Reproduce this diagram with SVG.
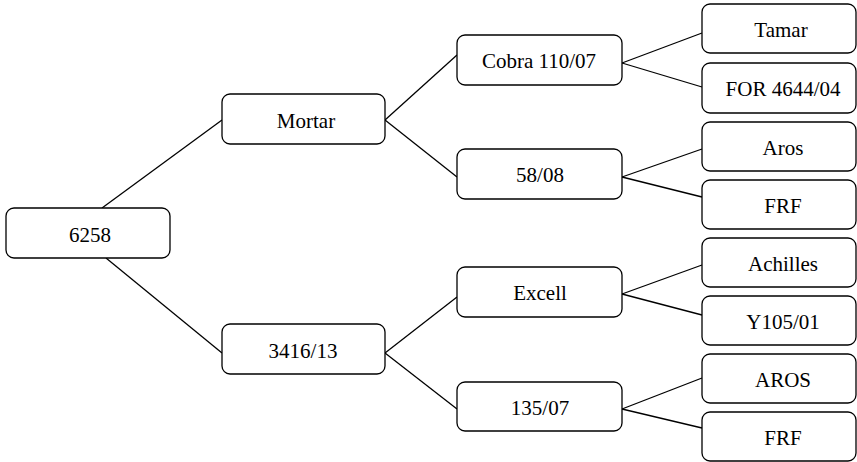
<svg xmlns="http://www.w3.org/2000/svg" width="857" height="462" viewBox="0 0 857 462">
<style>
rect{fill:#fff;stroke:#000;stroke-width:1.3}
#connectors line{stroke:#000;stroke-width:1.3}
</style>
<rect x="0" y="0" width="857" height="462" style="stroke:none;fill:#fff"/>
<g id="connectors">
<line x1="102" y1="208" x2="222" y2="120"/>
<line x1="106" y1="258" x2="222" y2="353"/>
<line x1="385" y1="120" x2="457" y2="55"/>
<line x1="385" y1="120" x2="457" y2="177"/>
<line x1="385" y1="353" x2="457" y2="297"/>
<line x1="385" y1="353" x2="457" y2="409"/>
<line x1="622" y1="63" x2="702" y2="33"/>
<line x1="622" y1="63" x2="702" y2="87"/>
<line x1="622" y1="177" x2="702" y2="149"/>
<line x1="622" y1="177" x2="702" y2="197"/>
<line x1="622" y1="294" x2="702" y2="265"/>
<line x1="622" y1="294" x2="702" y2="315"/>
<line x1="622" y1="409" x2="702" y2="378"/>
<line x1="622" y1="409" x2="702" y2="428"/>
</g>
<g id="n6258"><rect x="6" y="208" width="164" height="50" rx="8"/><text font-family="Liberation Serif" font-size="21" text-anchor="middle" x="90" y="241.5">6258</text></g>
<g id="mortar"><rect x="222" y="94" width="163" height="50" rx="8"/><text font-family="Liberation Serif" font-size="21" text-anchor="middle" x="306" y="127.5">Mortar</text></g>
<g id="n3416"><rect x="222" y="324" width="163" height="50" rx="8"/><text font-family="Liberation Serif" font-size="21" text-anchor="middle" x="303" y="357.5">3416/13</text></g>
<g id="cobra"><rect x="457" y="35" width="165" height="50" rx="8"/><text font-family="Liberation Serif" font-size="21" text-anchor="middle" x="539" y="68">Cobra 110/07</text></g>
<g id="n5808"><rect x="457" y="149" width="165" height="50" rx="8"/><text font-family="Liberation Serif" font-size="21" text-anchor="middle" x="540" y="182">58/08</text></g>
<g id="excell"><rect x="457" y="267" width="165" height="50" rx="8"/><text font-family="Liberation Serif" font-size="21" text-anchor="middle" x="540" y="300">Excell</text></g>
<g id="n13507"><rect x="457" y="382" width="165" height="49" rx="8"/><text font-family="Liberation Serif" font-size="21" text-anchor="middle" x="540" y="414.5">135/07</text></g>
<g id="tamar"><rect x="702" y="4" width="154" height="49" rx="8"/><text font-family="Liberation Serif" font-size="21" text-anchor="middle" x="781" y="36.5">Tamar</text></g>
<g id="for"><rect x="702" y="63" width="154" height="50" rx="8"/><text font-family="Liberation Serif" font-size="21" text-anchor="middle" x="783" y="96">FOR 4644/04</text></g>
<g id="aros1"><rect x="702" y="122" width="154" height="49" rx="8"/><text font-family="Liberation Serif" font-size="21" text-anchor="middle" x="783" y="154.5">Aros</text></g>
<g id="frf1"><rect x="702" y="180" width="154" height="49" rx="8"/><text font-family="Liberation Serif" font-size="21" text-anchor="middle" x="783" y="212.5">FRF</text></g>
<g id="achilles"><rect x="702" y="238" width="154" height="49" rx="8"/><text font-family="Liberation Serif" font-size="21" text-anchor="middle" x="783" y="270.5">Achilles</text></g>
<g id="y105"><rect x="702" y="296" width="154" height="49" rx="8"/><text font-family="Liberation Serif" font-size="21" text-anchor="middle" x="783" y="328.5">Y105/01</text></g>
<g id="aros2"><rect x="702" y="354" width="154" height="49" rx="8"/><text font-family="Liberation Serif" font-size="21" text-anchor="middle" x="783" y="386.5">AROS</text></g>
<g id="frf2"><rect x="702" y="412" width="154" height="49" rx="8"/><text font-family="Liberation Serif" font-size="21" text-anchor="middle" x="783" y="444.5">FRF</text></g>
</svg>
